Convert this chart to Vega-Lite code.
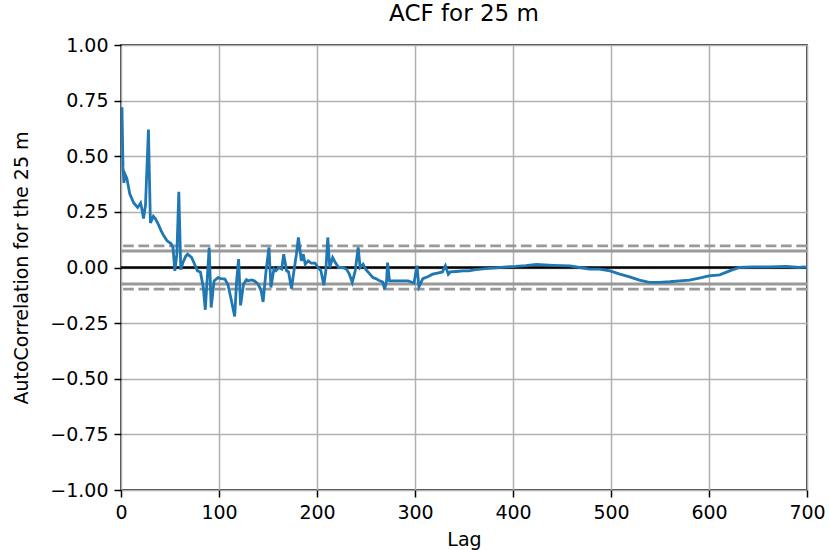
{
  "$schema": "https://vega.github.io/schema/vega-lite/v6.json",
  "width": 686,
  "height": 445,
  "autosize": {"type": "none"},
  "padding": {"left": 121, "top": 45, "right": 22, "bottom": 60},
  "background": "white",
  "title": {"text": "ACF for 25 m", "fontSize": 23, "font": "DejaVu Sans", "fontWeight": "normal", "color": "black", "offset": 10, "anchor": "middle"},
  "config": {
    "font": "DejaVu Sans",
    "view": {"stroke": "black", "strokeWidth": 1.5},
    "axis": {
      "labelFont": "DejaVu Sans", "labelFontSize": 19, "labelColor": "black",
      "titleFont": "DejaVu Sans", "titleFontSize": 19, "titleFontWeight": "normal", "titleColor": "black",
      "tickColor": "black", "tickSize": 7, "tickWidth": 1.5, "labelPadding": 6,
      "domain": false, "grid": true, "gridColor": "#b0b0b0", "gridWidth": 1.5,
      "labelFlush": false, "labelOverlap": false
    }
  },
  "datasets": {
    "acf": [
      {"lag": 1, "acf": 0.72}, {"lag": 2, "acf": 0.45}, {"lag": 3, "acf": 0.38}, {"lag": 4, "acf": 0.42},
      {"lag": 6, "acf": 0.40}, {"lag": 9, "acf": 0.33}, {"lag": 13, "acf": 0.29}, {"lag": 17, "acf": 0.27},
      {"lag": 20, "acf": 0.29}, {"lag": 21, "acf": 0.27}, {"lag": 23, "acf": 0.22}, {"lag": 25, "acf": 0.28},
      {"lag": 28, "acf": 0.62}, {"lag": 30, "acf": 0.20}, {"lag": 33, "acf": 0.23}, {"lag": 35, "acf": 0.22},
      {"lag": 38, "acf": 0.195}, {"lag": 41, "acf": 0.165}, {"lag": 44, "acf": 0.14}, {"lag": 47, "acf": 0.12},
      {"lag": 51, "acf": 0.108}, {"lag": 53, "acf": 0.09}, {"lag": 55, "acf": -0.015}, {"lag": 57, "acf": 0.06},
      {"lag": 59, "acf": 0.34}, {"lag": 61, "acf": -0.01}, {"lag": 63, "acf": 0.02}, {"lag": 66, "acf": 0.05},
      {"lag": 68, "acf": 0.06}, {"lag": 72, "acf": 0.045}, {"lag": 75, "acf": 0.016}, {"lag": 78, "acf": -0.015},
      {"lag": 81, "acf": -0.02}, {"lag": 84, "acf": -0.09}, {"lag": 86, "acf": -0.19}, {"lag": 90, "acf": 0.09},
      {"lag": 92, "acf": -0.18}, {"lag": 95, "acf": -0.06}, {"lag": 99, "acf": -0.045}, {"lag": 102, "acf": -0.05},
      {"lag": 106, "acf": -0.052}, {"lag": 109, "acf": -0.075}, {"lag": 112, "acf": -0.135}, {"lag": 116, "acf": -0.22},
      {"lag": 118, "acf": -0.06}, {"lag": 120, "acf": 0.038}, {"lag": 122, "acf": -0.17}, {"lag": 125, "acf": -0.075},
      {"lag": 128, "acf": -0.055}, {"lag": 130, "acf": -0.06}, {"lag": 133, "acf": -0.056}, {"lag": 136, "acf": -0.06},
      {"lag": 140, "acf": -0.075}, {"lag": 143, "acf": -0.105}, {"lag": 145, "acf": -0.155}, {"lag": 148, "acf": -0.015},
      {"lag": 151, "acf": 0.09}, {"lag": 153, "acf": -0.09}, {"lag": 156, "acf": -0.007}, {"lag": 158, "acf": -0.015},
      {"lag": 161, "acf": 0.0}, {"lag": 164, "acf": -0.007}, {"lag": 166, "acf": 0.06}, {"lag": 169, "acf": -0.015},
      {"lag": 171, "acf": -0.02}, {"lag": 174, "acf": -0.095}, {"lag": 176, "acf": -0.03}, {"lag": 179, "acf": 0.06},
      {"lag": 181, "acf": 0.135}, {"lag": 184, "acf": 0.03}, {"lag": 186, "acf": 0.06}, {"lag": 188, "acf": 0.015},
      {"lag": 191, "acf": 0.03}, {"lag": 194, "acf": 0.02}, {"lag": 198, "acf": 0.02}, {"lag": 201, "acf": 0.0},
      {"lag": 204, "acf": -0.015}, {"lag": 207, "acf": -0.08}, {"lag": 209, "acf": -0.015}, {"lag": 211, "acf": 0.135},
      {"lag": 213, "acf": 0.0}, {"lag": 216, "acf": 0.045}, {"lag": 219, "acf": 0.02}, {"lag": 222, "acf": 0.0},
      {"lag": 226, "acf": 0.0}, {"lag": 230, "acf": -0.007}, {"lag": 233, "acf": -0.03}, {"lag": 236, "acf": -0.067},
      {"lag": 239, "acf": -0.015}, {"lag": 242, "acf": 0.09}, {"lag": 244, "acf": 0.0}, {"lag": 247, "acf": 0.015},
      {"lag": 250, "acf": -0.01}, {"lag": 254, "acf": -0.03}, {"lag": 257, "acf": -0.045}, {"lag": 260, "acf": -0.05},
      {"lag": 264, "acf": -0.06}, {"lag": 267, "acf": -0.065}, {"lag": 269, "acf": -0.097}, {"lag": 271, "acf": -0.06},
      {"lag": 272, "acf": 0.022}, {"lag": 274, "acf": -0.06}, {"lag": 278, "acf": -0.06}, {"lag": 283, "acf": -0.06},
      {"lag": 288, "acf": -0.06}, {"lag": 293, "acf": -0.06}, {"lag": 296, "acf": -0.065}, {"lag": 299, "acf": -0.07},
      {"lag": 302, "acf": 0.008}, {"lag": 304, "acf": -0.087}, {"lag": 308, "acf": -0.05}, {"lag": 313, "acf": -0.042},
      {"lag": 318, "acf": -0.03}, {"lag": 323, "acf": -0.025}, {"lag": 328, "acf": -0.02}, {"lag": 331, "acf": 0.008},
      {"lag": 334, "acf": -0.03}, {"lag": 336, "acf": -0.02}, {"lag": 342, "acf": -0.018}, {"lag": 349, "acf": -0.015},
      {"lag": 355, "acf": -0.015}, {"lag": 362, "acf": -0.01}, {"lag": 372, "acf": -0.005}, {"lag": 383, "acf": -0.002},
      {"lag": 393, "acf": 0.003}, {"lag": 403, "acf": 0.005}, {"lag": 413, "acf": 0.008}, {"lag": 424, "acf": 0.014},
      {"lag": 441, "acf": 0.01}, {"lag": 458, "acf": 0.007}, {"lag": 468, "acf": 0.0}, {"lag": 478, "acf": -0.007},
      {"lag": 488, "acf": -0.007}, {"lag": 499, "acf": -0.015}, {"lag": 509, "acf": -0.03}, {"lag": 519, "acf": -0.042},
      {"lag": 529, "acf": -0.057}, {"lag": 539, "acf": -0.067}, {"lag": 549, "acf": -0.067}, {"lag": 560, "acf": -0.064},
      {"lag": 570, "acf": -0.06}, {"lag": 580, "acf": -0.057}, {"lag": 590, "acf": -0.048}, {"lag": 600, "acf": -0.038},
      {"lag": 611, "acf": -0.033}, {"lag": 621, "acf": -0.015}, {"lag": 631, "acf": 0.0}, {"lag": 645, "acf": 0.003},
      {"lag": 662, "acf": 0.003}, {"lag": 679, "acf": 0.005}, {"lag": 692, "acf": 0.0}, {"lag": 697, "acf": 0.003},
      {"lag": 700, "acf": 0.0}
    ]
  },
  "layer": [
    {
      "data": {"values": [{"y": 0.0974}, {"y": -0.0974}]},
      "mark": {"type": "rule", "color": "#999999", "strokeWidth": 2.9, "strokeDash": [10.7, 4.6]},
      "encoding": {"y": {"field": "y", "type": "quantitative"}}
    },
    {
      "data": {"values": [{"y": 0.0741}, {"y": -0.0741}]},
      "mark": {"type": "rule", "color": "#999999", "strokeWidth": 2.9},
      "encoding": {"y": {"field": "y", "type": "quantitative"}}
    },
    {
      "data": {"values": [{"y": 0}]},
      "mark": {"type": "rule", "color": "black", "strokeWidth": 2.5},
      "encoding": {"y": {"field": "y", "type": "quantitative"}}
    },
    {
      "data": {"name": "acf"},
      "mark": {"type": "line", "color": "#1f77b4", "strokeWidth": 2.8, "clip": true},
      "encoding": {
        "x": {"field": "lag", "type": "quantitative", "scale": {"domain": [0, 700], "nice": false, "zero": false},
              "axis": {"values": [0, 100, 200, 300, 400, 500, 600, 700], "title": "Lag", "titlePadding": 8}},
        "y": {"field": "acf", "type": "quantitative", "scale": {"domain": [-1, 1], "nice": false},
              "axis": {"values": [-1, -0.75, -0.5, -0.25, 0, 0.25, 0.5, 0.75, 1], "format": ".2f", "title": "AutoCorrelation for the 25 m", "titlePadding": 18}}
      }
    }
  ]
}
